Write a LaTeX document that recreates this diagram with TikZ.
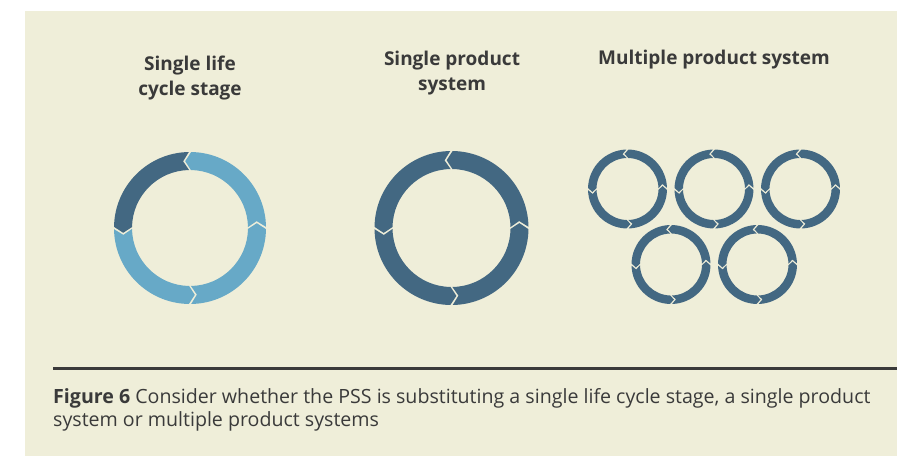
\documentclass[tikz,border=0pt]{standalone}
\usepackage{fontspec}
\setmainfont{Open Sans}
\usetikzlibrary{positioning}

\definecolor{paper}{HTML}{EFEED9}
\definecolor{ringdark}{HTML}{436882}
\definecolor{ringlight}{HTML}{67A9C7}
\definecolor{inkgray}{HTML}{3A3A3A}

% one quarter of a cycle ring: colour, centre, start angle, outer r, inner r, gap, tip
\newcommand{\cycleseg}[7]{%
  \pgfmathsetmacro\sa{#3+#6}%
  \pgfmathsetmacro\ea{#3+90-#6}%
  \pgfmathsetmacro\mr{(#4+#5)/2}%
  \fill[#1, shift={#2}] ({\sa}:#4pt) arc[start angle=\sa, end angle=\ea, radius=#4pt]
    -- ({\ea+#7}:{\mr pt}) -- ({\ea}:#5pt) arc[start angle=\ea, end angle=\sa, radius=#5pt]
    -- ({\sa+#7}:{\mr pt}) -- cycle;}

% full ring of four arrows running anticlockwise
\newcommand{\cyclering}[9]{%
  \cycleseg{#6}{#1}{0}{#2}{#3}{#4}{#5}%
  \cycleseg{#7}{#1}{90}{#2}{#3}{#4}{#5}%
  \cycleseg{#8}{#1}{180}{#2}{#3}{#4}{#5}%
  \cycleseg{#9}{#1}{270}{#2}{#3}{#4}{#5}}

\begin{document}
\begin{tikzpicture}[x=1pt, y=1pt,
  title/.style={text=inkgray, font=\fontsize{19}{25}\selectfont\bfseries, align=center},
  caption/.style={text=inkgray, font=\fontsize{19.6}{23}\selectfont, anchor=base west, inner sep=0pt}]

\useasboundingbox (0,0) rectangle (897,456);
\fill[white] (0,0) rectangle (897,456);
\fill[paper] (25,0) rectangle (897,445);

\node[title] (single) at (190,377.5) {Single life\\cycle stage};
\node[title] (product) at (452,383) {Single product\\system};
\node[title] (multiple) at (714,396) {Multiple product system};

% big rings
\cyclering{(190pt,228pt)}{76}{58}{0.9}{5}{ringlight}{ringdark}{ringlight}{ringlight}
\cyclering{(451.5pt,228pt)}{77}{59}{0.9}{5}{ringdark}{ringdark}{ringdark}{ringdark}

% small rings
\def\R{39.5}
\def\r{31}
\cyclering{(627.5pt,267pt)}{\R}{\r}{1.6}{6.5}{ringdark}{ringdark}{ringdark}{ringdark}
\cyclering{(714pt,267pt)}{\R}{\r}{1.6}{6.5}{ringdark}{ringdark}{ringdark}{ringdark}
\cyclering{(800.5pt,267pt)}{\R}{\r}{1.6}{6.5}{ringdark}{ringdark}{ringdark}{ringdark}
\cyclering{(671pt,191.5pt)}{\R}{\r}{1.6}{6.5}{ringdark}{ringdark}{ringdark}{ringdark}
\cyclering{(757.5pt,191.5pt)}{\R}{\r}{1.6}{6.5}{ringdark}{ringdark}{ringdark}{ringdark}

\coordinate (ruleL) at (53,88);
\coordinate (ruleR) at (897,88);
\draw[inkgray, line width=3pt] (ruleL) -- (ruleR);

\node[caption] (cap1) at (53,53) {\textbf{Figure 6} Consider whether the PSS is substituting a single life cycle stage, a single product};
\node[caption] (cap2) at (53,29.5) {system or multiple product systems};

\end{tikzpicture}
\end{document}
